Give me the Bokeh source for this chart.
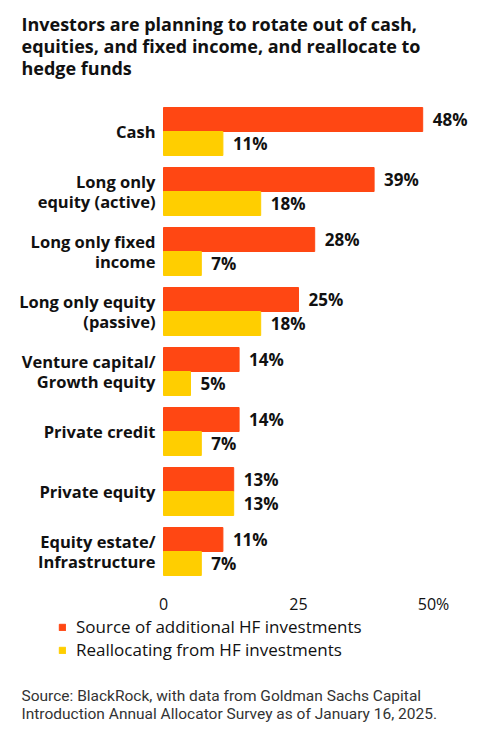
from bokeh.plotting import figure
from bokeh.models import (ColumnDataSource, Range1d, Label, Legend, LegendItem)
from bokeh.transform import dodge
from bokeh.core.properties import value
from bokeh.embed import file_html
from bokeh.resources import INLINE

categories = ["Cash", "Long only\nequity (active)", "Long only fixed\nincome",
              "Long only equity\n(passive)", "Venture capital/\nGrowth equity",
              "Private credit", "Private equity", "Equity estate/\nInfrastructure"]
source_hf = [48, 39, 28, 25, 14, 14, 13, 11]
realloc_hf = [11, 18, 7, 18, 5, 7, 13, 7]
x_ticks = [0, 25, 50]
x_tick_labels = ["0", "25", "50%"]

title_lines = ["Investors are planning to rotate out of  cash,",
               "equities, and fixed income, and reallocate to",
               "hedge funds"]
source_lines = ["Source: BlackRock, with data from Goldman Sachs Capital",
                "Introduction Annual Allocator Survey as of January 16, 2025."]

ORANGE = "#ff4713"
YELLOW = "#ffce00"
INK = "#111111"

W, H = 489, 735
# layout in pixels: 0% at x=163, 5.4 px per percent; groups 60 px apart,
# first group centred at y=131
X0, KX, Y0, KY = 163, 5.4, 131, 60.0
n = len(categories)
ypos = [n - 1 - i for i in range(n)]


def dx(px):
    return (px - X0) / KX


def dy(py):
    return (n - 1) - (py - Y0) / KY


src = ColumnDataSource(dict(
    y=ypos, src=source_hf, rea=realloc_hf, cat=categories,
    src_lbl=[f"{v}%" for v in source_hf],
    rea_lbl=[f"{v}%" for v in realloc_hf],
))
ticks = ColumnDataSource(dict(x=x_ticks, lbl=x_tick_labels))

p = figure(width=W, height=H, min_border=0, x_axis_location=None,
           y_axis_location=None, x_range=Range1d(dx(0), dx(W)),
           y_range=Range1d(dy(H), dy(0)), output_backend="svg",
           toolbar_location=None)
p.outline_line_color = None
p.grid.visible = False

r1 = p.hbar(y=dodge("y", 0.2), left=0, right="src", height=0.4,
            color=ORANGE, source=src)
r2 = p.hbar(y=dodge("y", -0.2), left=0, right="rea", height=0.4,
            color=YELLOW, source=src)

for col, lbl, off in [("src", "src_lbl", 0.2), ("rea", "rea_lbl", -0.2)]:
    p.text(x=col, y=dodge("y", off), text=lbl, source=src, x_offset=10,
           text_baseline="middle", text_font=value("Open Sans"),
           text_font_style="bold", text_font_size="17px", text_color=INK)

# category names, right aligned next to the bars
p.text(x=dx(155), y="y", text="cat", source=src, text_align="right",
       text_baseline="middle", text_font=value("Open Sans"),
       text_font_style="bold", text_font_size="16.5px", text_color=INK,
       text_line_height=0.87)

# value axis labels
p.text(x="x", y=dy(603), text="lbl", source=ticks, text_align="center",
       text_baseline="middle", text_font=value("Open Sans"),
       text_font_size="16px", text_color=INK)

for i, line in enumerate(title_lines):
    p.add_layout(Label(x=dx(21), y=dy(23 + 22 * i), text=line,
                       text_font="Open Sans", text_font_style="bold",
                       text_font_size="18px", text_color=INK,
                       text_baseline="alphabetic"))

for i, line in enumerate(source_lines):
    p.add_layout(Label(x=dx(21), y=dy(695 + 18.5 * i), text=line,
                       text_font="Roboto", text_font_size="15.5px",
                       text_color="#333333", text_baseline="alphabetic"))

legend = Legend(items=[LegendItem(label="Source of additional HF investments", renderers=[r1]),
                       LegendItem(label="Reallocating from HF investments", renderers=[r2])],
                location=(58, H - 661), padding=0, margin=0, spacing=0,
                glyph_width=8, glyph_height=8, label_height=21,
                label_standoff=10, label_text_font="Open Sans",
                label_text_font_size="17px", label_text_color=INK,
                border_line_color=None, background_fill_alpha=0)
p.add_layout(legend)

open("out.html", "w").write(file_html(p, INLINE))
